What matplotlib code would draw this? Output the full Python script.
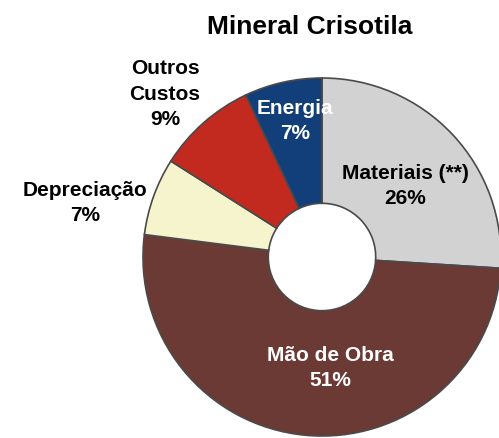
import matplotlib.pyplot as plt

plt.rcParams['font.family'] = ['Liberation Sans', 'DejaVu Sans']

categories = ['Materiais (**)', 'Mão de Obra', 'Depreciação', 'Outros\nCustos', 'Energia']
shares = [26, 51, 7, 9, 7]
colors = ['#d2d2d2', '#6c3a34', '#f6f4cd', '#c22a1f', '#123e7a']
text_colors = ['black', 'white', 'black', 'black', 'white']

# label anchor positions in pixels (x from left, y from top)
label_pos = [(405, 186), (330, 368), (85, 203), (165, 94), (295, 121)]

W, H = 499, 439

fig = plt.figure(figsize=(W / 100, H / 100), dpi=100)
ax = fig.add_axes([0, 0, 1, 1])

R = 179
wedges, _ = ax.pie(shares, colors=colors, startangle=90, counterclock=False,
                   radius=R, center=(322, H - 258),
                   wedgeprops=dict(width=R * 0.70, edgecolor='#4a4a4a', linewidth=1.2))

for name, val, (x, y), c in zip(categories, shares, label_pos, text_colors):
    ax.text(x, H - y, f'{name}\n{val}%', ha='center', va='center', color=c,
            fontsize=15, fontweight='bold', linespacing=1.45)

ax.text(310, H - 27, 'Mineral Crisotila', ha='center', va='center',
        fontsize=19, fontweight='bold')

ax.set_xlim(0, W)
ax.set_ylim(0, H)
ax.set_aspect('equal')
ax.axis('off')

fig.savefig('out.png', dpi=100)
